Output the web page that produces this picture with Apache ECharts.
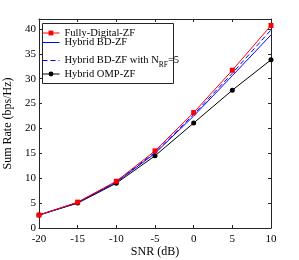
<!DOCTYPE html>
<html><head><meta charset="utf-8">
<script src="https://cdn.jsdelivr.net/npm/echarts@6/dist/echarts.min.js"></script>
<style>html,body{margin:0;padding:0;background:#fff}#c{width:299px;height:260px}</style>
</head><body><div id="c"></div>
<script>
const snr = [-20, -15, -10, -5, 0, 5, 10];
const fullyDigital = [2.6, 5.2, 9.4, 15.5, 23.2, 31.7, 40.7];
const hybridBD = [2.6, 5.1, 9.2, 15.0, 22.5, 30.6, 38.8];
const hybridBD5 = [2.6, 5.1, 9.3, 15.2, 22.8, 31.1, 39.8];
const hybridOMP = [2.6, 5.0, 9.0, 14.5, 21.1, 27.7, 33.8];
const names = ['Fully-Digital-ZF', 'Hybrid BD-ZF', 'Hybrid BD-ZF with N_RF=5', 'Hybrid OMP-ZF'];
const font = 'Liberation Serif';
const axisCol = '#262626';

const chart = echarts.init(document.getElementById('c'), null, {renderer: 'canvas'});
const pair = arr => arr.map((v, i) => [snr[i], v]);
const legendTops = [27.5, 37, 55, 68.5];
const noMarker = [false, true, true, false];
const legends = names.map((n, i) => ({
  data: [noMarker[i] ? {name: n, itemStyle: {color: 'rgba(0,0,0,0)', borderWidth: 0}} : n],
  left: 42, top: legendTops[i], orient: 'vertical', z: 20,
  itemWidth: 17, itemHeight: 6, itemGap: 0, padding: 0,
  lineStyle: {width: 1},
  textStyle: {fontFamily: font, fontSize: 10.5, color: '#000',
    rich: {sub: {fontFamily: font, fontSize: 7.5, color: '#000', padding: [9, 0, 0, 0]},
           n: {fontFamily: font, fontSize: 10.5, color: '#000'}}},
  formatter: name => name.indexOf('N_RF') >= 0 ? '{n|Hybrid BD-ZF with N}{sub|RF}{n|=5}' : name,
  selectedMode: false
}));
const baseX = {type: 'value', min: -20, max: 10, interval: 5,
  axisLine: {show: true, onZero: false, lineStyle: {color: axisCol, width: 1}},
  axisTick: {show: true, inside: true, length: 3, lineStyle: {color: axisCol}},
  splitLine: {show: false}};
const baseY = {type: 'value', min: 0, max: 42, interval: 5,
  axisLine: {show: true, onZero: false, lineStyle: {color: axisCol, width: 1}},
  axisTick: {show: true, inside: true, length: 3, lineStyle: {color: axisCol}},
  splitLine: {show: false}};
chart.setOption({
  animation: false,
  grid: {left: 39, right: 28, top: 19, bottom: 32, containLabel: false, outerBoundsMode: 'none'},
  legend: legends,
  graphic: [{type: 'rect', left: 42, top: 23, shape: {width: 131, height: 60},
    style: {fill: '#fff', stroke: axisCol, lineWidth: 1}, z: 2}],
  xAxis: [
    Object.assign({}, baseX, {position: 'bottom', name: 'SNR (dB)', nameLocation: 'middle', nameGap: 18,
      nameMoveOverlap: false,
      nameTextStyle: {fontFamily: font, fontSize: 12, color: '#000'},
      axisLabel: {fontFamily: font, fontSize: 11, color: '#000', margin: 6}}),
    Object.assign({}, baseX, {position: 'top', axisLabel: {show: false}})
  ],
  yAxis: [
    Object.assign({}, baseY, {position: 'left', name: 'Sum Rate (bps/Hz)', nameLocation: 'middle', nameGap: 23,
      nameTextStyle: {fontFamily: font, fontSize: 12, color: '#000'},
      axisLabel: {fontFamily: font, fontSize: 11, color: '#000', margin: 3, showMaxLabel: false}}),
    Object.assign({}, baseY, {position: 'right', axisLabel: {show: false}})
  ],
  series: [
    {name: names[0], type: 'line', data: pair(fullyDigital), symbol: 'rect', symbolSize: 5,
      itemStyle: {color: '#ff0000'}, lineStyle: {color: '#ff0000', width: 1}, z: 5},
    {name: names[1], type: 'line', data: pair(hybridBD), symbol: 'none', showSymbol: false,
      itemStyle: {color: '#0000ff'}, lineStyle: {color: '#0000ff', width: 1}, z: 4},
    {name: names[2], type: 'line', data: pair(hybridBD5), symbol: 'none', showSymbol: false,
      itemStyle: {color: '#0000ff'}, lineStyle: {color: '#0000ff', width: 1, type: [5, 3]}, z: 4},
    {name: names[3], type: 'line', data: pair(hybridOMP), symbol: 'circle', symbolSize: 5,
      itemStyle: {color: '#000'}, lineStyle: {color: '#000', width: 1}, z: 3}
  ]
});
</script></body></html>
